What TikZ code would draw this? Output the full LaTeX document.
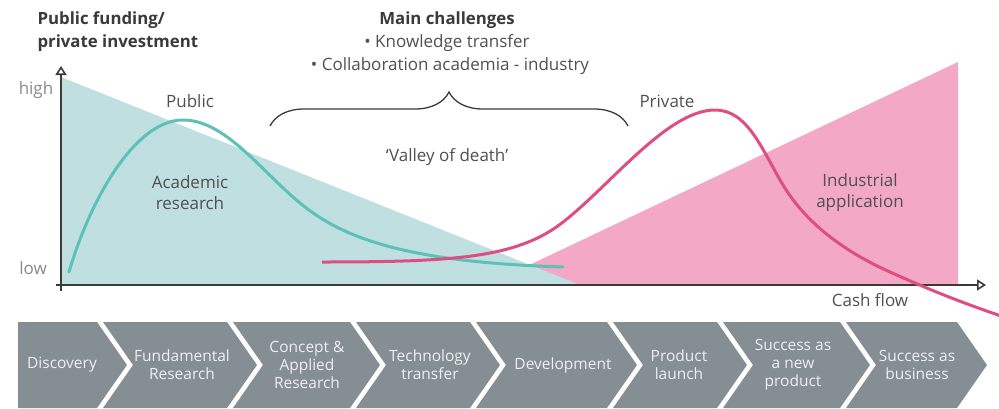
\documentclass[tikz,border=0pt]{standalone}
\usepackage{fontspec}
\setmainfont{Open Sans}
\usepackage{tikz}
\usetikzlibrary{arrows.meta}
\usetikzlibrary{decorations.pathreplacing}
\usetikzlibrary{positioning}

\definecolor{tealfill}{HTML}{C0DFE0}
\definecolor{tealline}{HTML}{5CC1B8}
\definecolor{pinkfill}{HTML}{F3A9C6}
\definecolor{pinkline}{HTML}{DE4E80}
\definecolor{chevgray}{HTML}{858E93}
\definecolor{chevtext}{HTML}{EEF0F1}
\definecolor{txtgray}{HTML}{505050}
\definecolor{lightgray}{HTML}{8A8A8A}
\definecolor{axisgray}{HTML}{3A3A3A}

\begin{document}
\begin{tikzpicture}[x=1pt, y=-1pt,
  lbl/.style={text=txtgray, font=\fontsize{17}{21}\selectfont, align=center},
  ttl/.style={text=axisgray, font=\bfseries\fontsize{16.8}{23}\selectfont},
  chev/.style={text=chevtext, font=\fontsize{15.5}{18}\selectfont, align=center}]
\useasboundingbox (0,0) rectangle (999,408);

% funding areas
\fill[pinkfill] (487,285) -- (958,62) -- (958,285) -- cycle;
\fill[tealfill] (61,77) -- (580,285) -- (61,285) -- cycle;

% axes
\draw[axisgray, line width=1.6pt, -{Triangle[open, length=9pt, width=11pt, line width=1.6pt]}] (61,291) -- (61,66);
\draw[axisgray, line width=1.6pt, -{Triangle[open, length=9pt, width=11pt, line width=1.6pt]}] (56,285) -- (986,285);

% curves
\draw[tealline, line width=3pt, line cap=round] (69,272) .. controls (90,200) and (135,120) .. (183,120)
  .. controls (225,120) and (260,170) .. (300,203) .. controls (340,236) and (400,262) .. (563,267);
\draw[pinkline, line width=3pt] (322,262) .. controls (450,262) and (510,258) .. (555,228)
  .. controls (605,193) and (665,110) .. (715,110) .. controls (748,110) and (762,150) .. (783,185)
  .. controls (800,213) and (830,245) .. (890,272) .. controls (930,290) and (960,302) .. (1004,317);

% brace
\draw[axisgray, line width=1.3pt, decorate, decoration={brace, amplitude=34pt}] (270,126) -- (628,126);

% texts
\node[ttl, anchor=west] (ttl1) at (34,20) {Public funding/};
\node[ttl, anchor=west] (ttl2) at (34,43) {private investment};
\node[text=lightgray, font=\fontsize{17}{17}\selectfont] (high) at (36,90) {high};
\node[text=lightgray, font=\fontsize{17}{17}\selectfont] (low) at (33,268) {low};
\node[ttl] (main) at (447,20) {Main challenges};
\node[lbl] (ch1) at (447,43) {• Knowledge transfer};
\node[lbl] (ch2) at (450,66) {• Collaboration academia - industry};
\node[lbl] (valley) at (447,157) {‘Valley of death’};
\node[lbl] (public) at (190,101) {Public};
\node[lbl] (academic) at (190,193) {Academic\\research};
\node[lbl] (private) at (667,101) {Private};
\node[lbl] (industrial) at (860,193) {Industrial\\application};
\node[lbl] (cash) at (870,300) {Cash flow};

% process chevrons
\fill[chevgray] (18,322) -- (97,322) -- (127,365) -- (97,408) -- (18,408) -- cycle;
\node[chev] (c1) at (62,365) {Discovery};
\foreach \xa/\xb/\xc/\i/\txt in {
  97/227/182/2/{Fundamental\\Research},
  227/350/307/3/{Concept \&\\Applied\\Research},
  350/470/430/4/{Technology\\transfer},
  470/607/563/5/{Development},
  607/717/679/6/{Product\\launch},
  717/840/793/7/{Success as\\a new\\product},
  840/957/917/8/{Success as\\business}}{
\fill[chevgray] (\xa+6,322) -- (\xb,322) -- (\xb+30,365) -- (\xb,408) -- (\xa+6,408) -- (\xa+36,365) -- cycle;
\node[chev] (c\i) at (\xc,365) {\txt};}
\end{tikzpicture}
\end{document}
